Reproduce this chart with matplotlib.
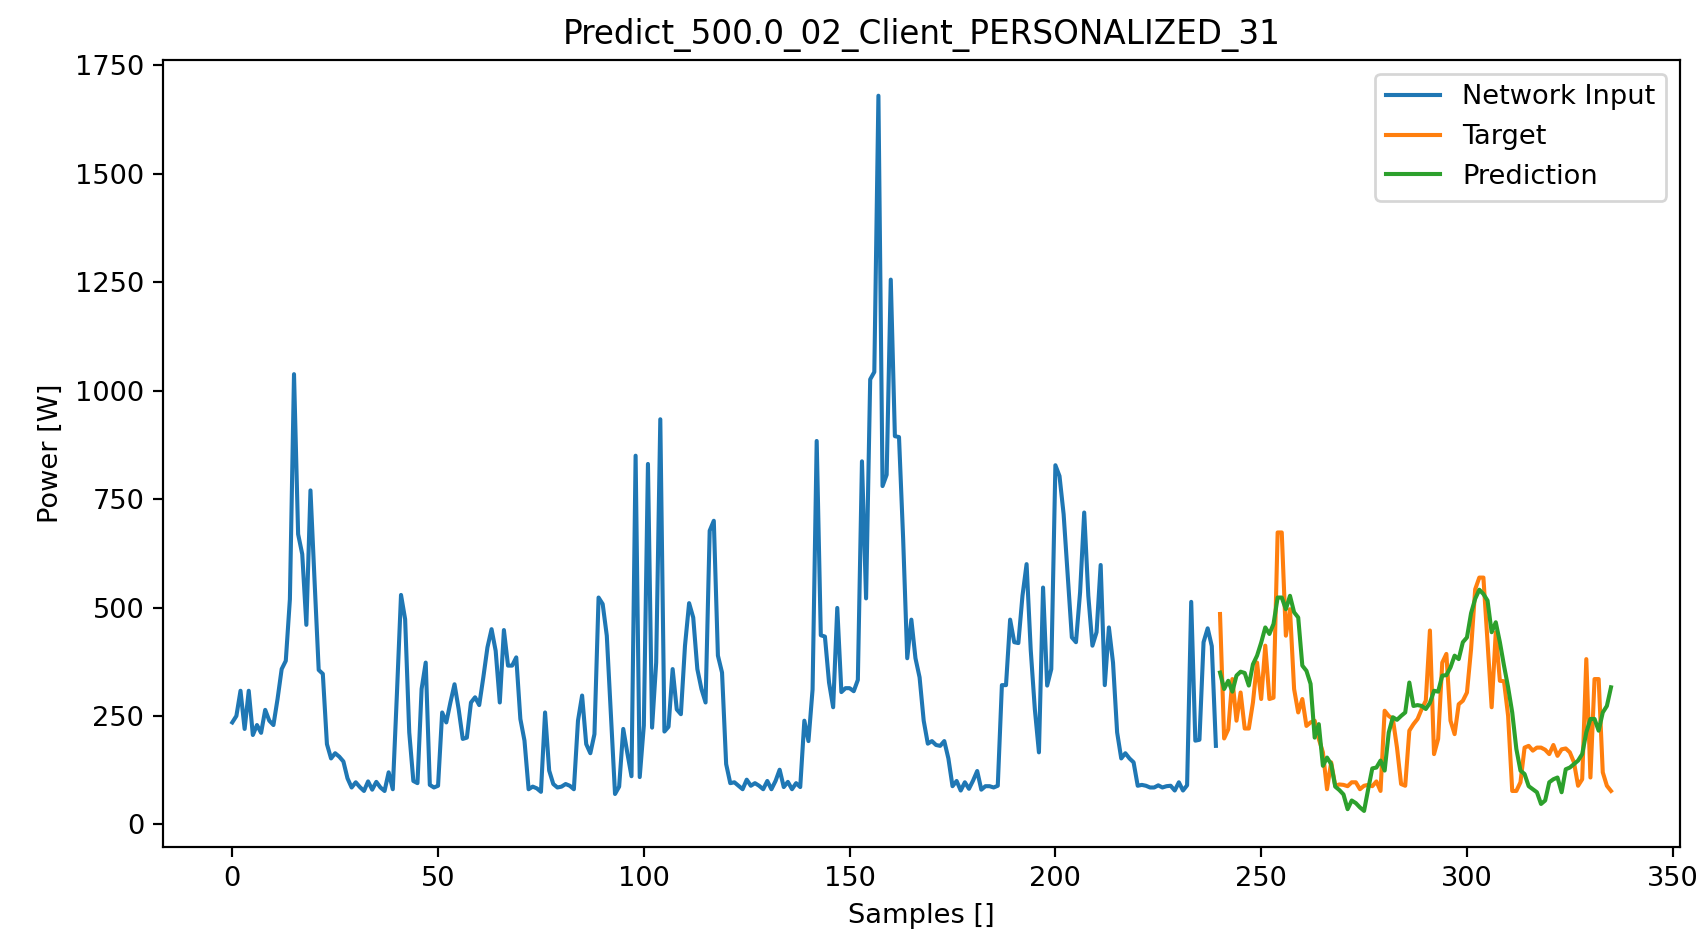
# Recreate the personalised client prediction plot

import numpy
import matplotlib
matplotlib.use('Agg')
import matplotlib.pyplot

# Network input window (240 samples)
network_input = [
    235, 250, 308, 220, 308, 206, 229, 211, 264, 239,
    229, 289, 358, 377, 519, 1038, 669, 623, 460, 770,
    560, 356, 347, 185, 152, 164, 156, 145, 106, 85,
    97, 86, 77, 99, 80, 98, 85, 77, 120, 81,
    300, 529, 473, 212, 100, 95, 312, 373, 91, 85,
    89, 258, 235, 281, 323, 266, 197, 200, 281, 293,
    275, 339, 408, 450, 400, 281, 448, 366, 366, 385,
    243, 193, 81, 87, 83, 75, 258, 124, 93, 85,
    87, 93, 89, 81, 239, 297, 185, 164, 208, 523,
    508, 435, 250, 70, 87, 220, 164, 111, 850, 109,
    228, 831, 223, 373, 934, 214, 225, 358, 265, 254,
    412, 510, 477, 358, 312, 281, 677, 700, 389, 350,
    139, 95, 97, 89, 81, 103, 89, 95, 89, 81,
    100, 81, 100, 126, 86, 98, 81, 95, 86, 239,
    192, 311, 884, 436, 433, 327, 270, 499, 305, 314,
    314, 307, 333, 837, 521, 1026, 1043, 1680, 780, 806,
    1256, 895, 893, 660, 383, 472, 383, 339, 239, 186,
    192, 183, 181, 192, 152, 88, 100, 78, 97, 82,
    101, 123, 80, 88, 88, 85, 89, 321, 321, 472,
    420, 418, 527, 600, 403, 266, 166, 546, 320, 358,
    828, 803, 715, 573, 431, 420, 535, 719, 527, 412,
    443, 598, 321, 454, 373, 212, 152, 164, 152, 143,
    89, 91, 89, 85, 85, 90, 85, 88, 89, 78,
    97, 78, 90, 513, 193, 195, 420, 452, 411, 181,
]

# Target horizon (96 samples)
target = [
    485, 198, 219, 335, 239, 304, 221, 221, 281, 373,
    289, 412, 289, 292, 673, 673, 435, 496, 312, 258,
    289, 227, 235, 239, 197, 166, 81, 143, 89, 92,
    91, 88, 97, 97, 81, 89, 91, 88, 99, 77,
    262, 250, 243, 177, 93, 89, 216, 231, 243, 266,
    285, 447, 162, 197, 373, 393, 239, 208, 277, 285,
    304, 404, 542, 569, 569, 420, 270, 443, 331, 330,
    250, 77, 77, 97, 177, 181, 170, 177, 177, 172,
    162, 183, 158, 173, 175, 166, 143, 89, 104, 381,
    108, 335, 335, 120, 89, 77,
]

# Model prediction over the same horizon
prediction = [
    350, 312, 331, 306, 343, 352, 349, 320, 369, 389,
    419, 454, 439, 462, 523, 523, 496, 527, 489, 477,
    366, 354, 324, 200, 231, 135, 154, 139, 87, 79,
    69, 35, 55, 49, 39, 31, 81, 129, 131, 147,
    124, 212, 247, 241, 250, 258, 327, 273, 275, 273,
    266, 280, 308, 306, 343, 344, 362, 389, 381, 420,
    431, 487, 520, 541, 531, 516, 443, 466, 420, 366,
    316, 258, 174, 124, 116, 88, 81, 74, 47, 55,
    97, 104, 108, 74, 127, 131, 139, 147, 162, 212,
    243, 243, 216, 258, 273, 316,
]

title = 'Predict_500.0_02_Client_PERSONALIZED_31'

# Sample indices
x_in = numpy.arange(len(network_input))
x_out = numpy.arange(len(network_input), len(network_input) + len(target))

# Reference text and lines look like ~196 dpi rendering
dpi = 196
fig, ax = matplotlib.pyplot.subplots(figsize=(1705/dpi, 934/dpi), dpi=dpi)
fig.subplots_adjust(left=0.0958, right=0.9853, top=0.9358, bottom=0.0935)

ax.plot(x_in, network_input, color='tab:blue', label='Network Input')
ax.plot(x_out, target, color='tab:orange', label='Target')
ax.plot(x_out, prediction, color='tab:green', label='Prediction')

ax.set_title(title)
ax.set_xlabel('Samples []')
ax.set_ylabel('Power [W]')
ax.legend(loc='upper right')

matplotlib.pyplot.savefig('out.png', dpi=dpi)
